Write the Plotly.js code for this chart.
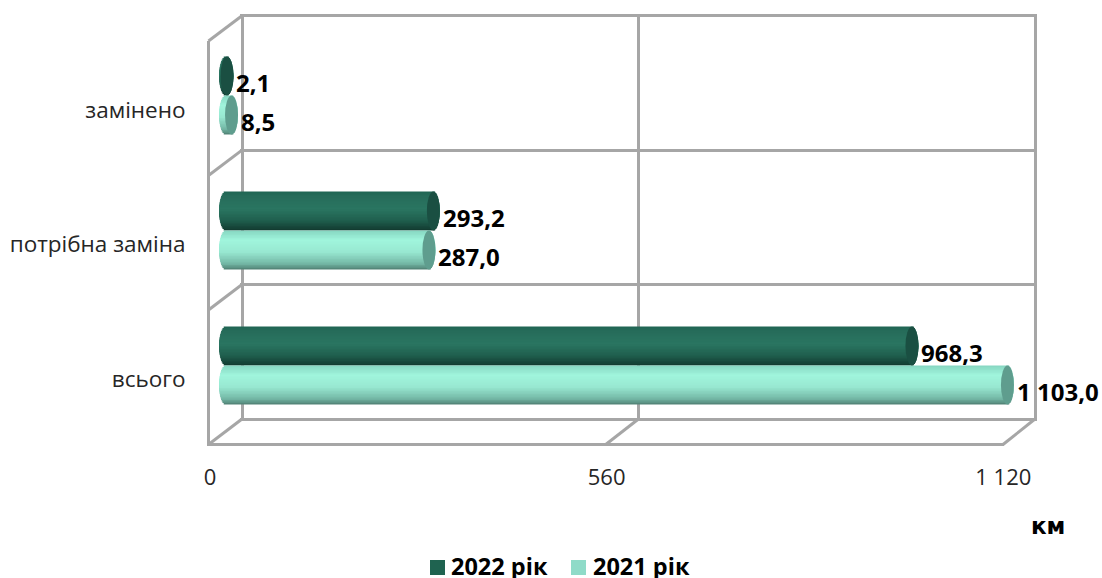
<!DOCTYPE html>
<html>
<head>
<meta charset="utf-8">
<script src="https://cdn.plot.ly/plotly-3.0.1.min.js"></script>
<style>html,body{margin:0;padding:0;background:#fff}</style>
</head>
<body>
<div id="chart" style="width:1102px;height:578px"></div>
<script>
// Chart data
const categories = ['замінено', 'потрібна заміна', 'всього'];
const values2022 = [2.1, 293.2, 968.3];
const values2021 = [8.5, 287.0, 1103.0];
const seriesNames = ['2022 рік', '2021 рік'];
const xTickValues = [0, 560, 1120];
const xTickLabels = ['0', '560', '1 120'];
const wallLevels = [0, 1, 2, 3];
const unitLabel = 'км';

// Plot region in page pixels; all axis domains below are placed inside it
const W = 1102, H = 578;
const L = 210, R = 1040, T = 10, B = 443;
const px = x => (x - L) / (R - L);
const py = y => (B - y) / (B - T);

// 3D box geometry, in page pixels
const frontX0 = 208.5, frontX1 = 1003, frontY0 = 444.5, frontY1 = 41;
const backX0 = 242, backX1 = 1035, backY0 = 419, backY1 = 15.7;
const midX0 = 225.5, midScale = 794 / 1120;     // cylinders stand halfway into the box
const rowPx = 135, firstRowPx = 95.5;
const barPx = 39, capPx = 6.5;
const backPitch = (backY0 - backY1) / 3, backScale = (backX1 - backX0) / 1120;
const frontPitch = (frontY0 - frontY1) / 3;

const frameColor = '#a6a6a6';
const textColor = '#262626';
const font = 'Open Sans, sans-serif';

const darkStops = [[0, '#1f6553'], [0.12, '#266c5a'], [0.45, '#2a7561'], [0.75, '#1f5e4d'], [1, '#12392f']];
const lightStops = [[0, '#86d6c1'], [0.25, '#a0f5dc'], [0.55, '#98e8d1'], [0.85, '#74b8a6'], [1, '#4f7f72']];
const swatches = ['#1f6350', '#8fdbc8'];
const capColors = ['#1a4f42', '#5f9d8e'];

function hex(c) { return [1, 3, 5].map(i => parseInt(c.substr(i, 2), 16)); }
function shade(stops, t) {
  for (let i = 1; i < stops.length; i++) {
    if (t <= stops[i][0]) {
      const a = stops[i - 1], b = stops[i], k = (t - a[0]) / (b[0] - a[0]);
      const ca = hex(a[1]), cb = hex(b[1]);
      return 'rgb(' + ca.map((v, j) => Math.round(v + (cb[j] - v) * k)).join(',') + ')';
    }
  }
  return stops[stops.length - 1][1];
}
function formatValue(v) {
  const s = v.toFixed(1).replace('.', ',');
  return v >= 1000 ? s.replace(/^(\d+)(\d{3})/, '$1 $2') : s;
}

const rows = categories.map((_, i) => i);
const barW = barPx / rowPx;

// Empty carriers so the back wall and the front edges get their axes drawn
const traces = [
  { type: 'scatter', mode: 'none', x: xTickValues, y: [0, 1, 2], xaxis: 'x', yaxis: 'y', showlegend: false, hoverinfo: 'skip' },
  { type: 'scatter', mode: 'none', x: xTickValues, y: rows, xaxis: 'x3', yaxis: 'y3', showlegend: false, hoverinfo: 'skip' }
];

// Cylinder bodies: slices painted from the rims toward the axis, each one reaching the centre line
[values2022, values2021].forEach((vals, s) => {
  const stops = s === 0 ? darkStops : lightStops;
  const start = s === 0 ? -barW : 0;
  const slices = 26, half = slices / 2, h = barW / slices;
  const order = [];
  for (let k = 0; k < half; k++) order.push(k, slices - 1 - k);
  order.forEach(k => {
    const t = (k + 0.5) / slices;
    const dx = capPx / midScale * Math.sqrt(1 - Math.pow(2 * t - 1, 2));
    const top = start + k * h, bottom = start + (k + 1) * h, mid = start + barW / 2;
    const offset = k < half ? top : mid;
    const width = k < half ? mid - top : bottom - mid;
    traces.push({
      type: 'bar', orientation: 'h', name: seriesNames[s], showlegend: false, hoverinfo: 'skip',
      xaxis: 'x2', yaxis: 'y2', y: rows,
      base: vals.map(() => -dx), x: vals.map(v => v + 2 * dx),
      width: width, offset: offset,
      marker: { color: shade(stops, t), line: { width: 0 } }
    });
  });
});

// Elliptical end caps on the cylinders
const shapes = [];
[values2022, values2021].forEach((vals, s) => {
  const start = s === 0 ? -barW : 0, dx = capPx / midScale;
  vals.forEach((v, i) => shapes.push({
    type: 'circle', xref: 'x2', yref: 'y2', layer: 'above',
    x0: v - dx, x1: v + dx, y0: i + start, y1: i + start + barW,
    fillcolor: capColors[s], line: { width: 0 }
  }));
});

// Diagonal edges of the box
function edge(x0, y0, x1, y1) {
  shapes.push({
    type: 'line', xref: 'paper', yref: 'paper', layer: 'below',
    x0: px(x0), y0: py(y0), x1: px(x1), y1: py(y1),
    line: { color: frameColor, width: 3 }
  });
}
wallLevels.forEach(i => edge(frontX0, frontY0 - i * frontPitch, backX0, backY0 - i * backPitch));
xTickValues.slice(1).forEach(v =>
  edge(frontX0 + v * (frontX1 - frontX0) / 1120, frontY0, backX0 + v * backScale, backY0));

// Value labels beside the cap of each cylinder
const annotations = [];
[values2022, values2021].forEach((vals, s) => {
  const start = s === 0 ? -barW / 2 : barW / 2;
  vals.forEach((v, i) => annotations.push({
    xref: 'x2', yref: 'y2', x: v, y: i + start, text: formatValue(v),
    showarrow: false, xanchor: 'left', xshift: 7.5, yshift: -6,
    font: { family: font, size: 24, color: '#000', weight: 700 }
  }));
});
annotations.push({
  xref: 'paper', yref: 'paper', x: px(1048), y: py(526), text: unitLabel,
  showarrow: false, xanchor: 'center', yanchor: 'middle',
  font: { family: 'DejaVu Sans, sans-serif', size: 23, color: '#000', weight: 700 }
});

// Legend row under the chart
const legendSwatchX = [430, 571], legendTextX = [449, 591];
seriesNames.forEach((name, s) => {
  shapes.push({
    type: 'rect', xref: 'paper', yref: 'paper', layer: 'above',
    x0: px(legendSwatchX[s]), x1: px(legendSwatchX[s] + 15), y0: py(560), y1: py(575),
    fillcolor: swatches[s], line: { width: 0 }
  });
  annotations.push({
    xref: 'paper', yref: 'paper', x: px(legendTextX[s]), y: py(565.5), text: name,
    showarrow: false, xanchor: 'left', yanchor: 'middle',
    font: { family: font, size: 23.5, color: '#000', weight: 700 }
  });
});

const layout = {
  width: W, height: H,
  margin: { l: L, r: W - R, t: T, b: H - B, pad: 0, autoexpand: false },
  paper_bgcolor: '#fff', plot_bgcolor: 'rgba(0,0,0,0)',
  barmode: 'overlay', hovermode: false, showlegend: false,
  font: { family: font, size: 22, color: textColor },
  // back wall of the box; the domain runs slightly past the outer lines so they stay drawn
  xaxis: {
    domain: [px(backX0 - 2), px(backX1 + 2)],
    range: [-2 / backScale, 1120 + 2 / backScale], anchor: 'y',
    tickvals: xTickValues, showticklabels: false, ticks: '',
    showgrid: true, gridcolor: frameColor, gridwidth: 3, zeroline: false, showline: false
  },
  yaxis: {
    domain: [py(backY0 + 2), py(backY1 - 2)],
    range: [-2 / backPitch, 3 + 2 / backPitch], anchor: 'x',
    tickvals: wallLevels, showticklabels: false, ticks: '',
    showgrid: true, gridcolor: frameColor, gridwidth: 3, zeroline: false, showline: false
  },
  // plane the cylinders stand in
  xaxis2: {
    domain: [0, 1], anchor: 'y2',
    range: [(L - midX0) / midScale, (R - midX0) / midScale],
    visible: false
  },
  yaxis2: {
    domain: [0, 1], anchor: 'x2',
    range: [(B - firstRowPx) / rowPx, (T - firstRowPx) / rowPx],
    visible: false
  },
  // front edges carrying the tick labels
  xaxis3: {
    domain: [0, px(frontX1 + 1)], range: [0, 1121], anchor: 'y3',
    tickvals: xTickValues, ticktext: xTickLabels, ticks: '', ticklabelstandoff: 13,
    showgrid: false, zeroline: false, showline: true, linecolor: frameColor, linewidth: 3,
    tickfont: { family: font, size: 22, color: textColor }
  },
  yaxis3: {
    domain: [0, py(frontY1)],
    range: [(B - 110) / frontPitch, (frontY1 - 110) / frontPitch], anchor: 'x3',
    tickvals: rows, ticktext: categories, ticks: '', ticklabelstandoff: 17,
    showgrid: false, zeroline: false, showline: true, linecolor: frameColor, linewidth: 3,
    tickfont: { family: font, size: 22.5, color: textColor }
  },
  shapes, annotations
};

Plotly.newPlot('chart', traces, layout, { displayModeBar: false, staticPlot: true });
</script>
</body>
</html>
